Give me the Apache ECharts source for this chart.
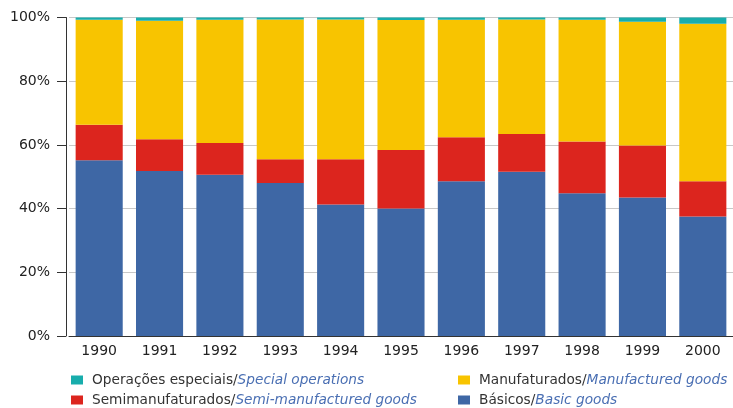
<!DOCTYPE html>
<html>
<head>
<meta charset="utf-8">
<script src="https://cdn.jsdelivr.net/npm/echarts@6/dist/echarts.min.js"></script>
<style>
  html, body { margin: 0; padding: 0; background: #fff; }
  #chart { width: 733px; height: 408px; }
</style>
</head>
<body>
<div id="chart"></div>
<script>
// Export structure by product type, share of total (%)
const years = ["1990", "1991", "1992", "1993", "1994", "1995", "1996", "1997", "1998", "1999", "2000"];
const basicos = [55.2, 51.8, 50.6, 48.0, 41.3, 40.0, 48.6, 51.6, 44.8, 43.5, 37.5];
const semimanufaturados = [11.1, 10.0, 10.0, 7.5, 14.2, 18.4, 13.8, 11.8, 16.3, 16.3, 11.1];
const manufaturados = [33.0, 37.2, 38.7, 43.9, 43.9, 40.8, 36.9, 36.0, 38.2, 38.9, 49.4];
const operacoes = [0.7, 1.0, 0.7, 0.6, 0.6, 0.8, 0.7, 0.6, 0.7, 1.3, 2.0];
const yTicks = [0, 20, 40, 60, 80, 100];

const names = {
  op: "Operações especiais/Special operations",
  man: "Manufaturados/Manufactured goods",
  semi: "Semimanufaturados/Semi-manufactured goods",
  bas: "Básicos/Basic goods"
};

const FONT = "DejaVu Sans, Verdana, sans-serif";
const LEGEND_SIZE = 13.7;

const legendText = {
  fontFamily: FONT,
  fontSize: LEGEND_SIZE,
  color: "#333",
  rich: {
    pt: { fontFamily: FONT, fontSize: LEGEND_SIZE, color: "#333", padding: [0, 0, 0, 4] },
    en: { fontFamily: FONT, fontSize: LEGEND_SIZE, color: "#4a6fb3", fontStyle: "italic" }
  }
};
const legendFmt = (name) => {
  const i = name.indexOf("/");
  return "{pt|" + name.slice(0, i + 1) + "}{en|" + name.slice(i + 1) + "}";
};

// one legend per entry so the 2x2 layout stays put
const legendItem = (name, left, top) => ({
  data: [name],
  left,
  top,
  padding: 0,
  itemWidth: 12,
  itemHeight: 9,
  itemGap: 0,
  icon: "rect",
  formatter: legendFmt,
  textStyle: legendText,
  selectedMode: false
});

const chart = echarts.init(document.getElementById("chart"), null, { renderer: "canvas" });

const bar = (name, data, color) => ({
  name,
  type: "bar",
  stack: "total",
  data,
  barCategoryGap: "22%",
  itemStyle: { color },
  emphasis: { disabled: true }
});

chart.setOption({
  animation: false,
  backgroundColor: "#fff",
  grid: { left: 69, right: -2, top: 17.5, bottom: 72 },
  legend: [
    legendItem(names.op, 71, 373),
    legendItem(names.man, 458, 373),
    legendItem(names.semi, 71, 393),
    legendItem(names.bas, 458, 393)
  ],
  xAxis: {
    type: "category",
    data: years,
    axisLine: { lineStyle: { color: "#333", width: 1 } },
    axisTick: { show: false },
    axisLabel: { color: "#222", fontFamily: FONT, fontSize: 14, margin: 8 }
  },
  yAxis: {
    type: "value",
    min: yTicks[0],
    max: yTicks[yTicks.length - 1],
    interval: 20,
    offset: 3,
    axisLine: { show: true, lineStyle: { color: "#333", width: 1 } },
    axisTick: { show: true, length: 9, lineStyle: { color: "#333" } },
    axisLabel: {
      color: "#222",
      fontFamily: FONT,
      fontSize: 14,
      margin: 16,
      formatter: (v) => v + "%"
    },
    splitLine: { show: true, lineStyle: { color: "#c8c8c8", width: 1 } }
  },
  series: [
    bar(names.bas, basicos, "#3e67a5"),
    bar(names.semi, semimanufaturados, "#dc251e"),
    bar(names.man, manufaturados, "#f8c400"),
    bar(names.op, operacoes, "#18adac")
  ]
});
</script>
</body>
</html>
